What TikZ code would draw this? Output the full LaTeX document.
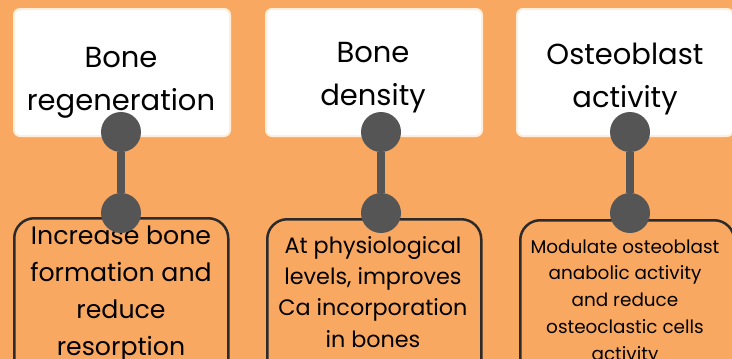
\documentclass[tikz,border=0pt]{standalone}
\usepackage{fontspec}
\setmainfont{Poppins}
\usepackage{tikz}
\definecolor{bgorange}{HTML}{F9A862}
\definecolor{cream}{HTML}{FFEEDB}
\definecolor{pin}{HTML}{555555}
\definecolor{edge}{HTML}{2B2B2B}

\begin{document}
\begin{tikzpicture}[x=1pt,y=-1pt,
  card/.style={draw=cream,fill=white,line width=2pt,rounded corners=6pt,minimum width=216pt,minimum height=127pt,anchor=north west,inner sep=0pt},
  lowbox/.style={draw=edge,line width=2.5pt,rounded corners=20pt,minimum width=214pt,minimum height=220pt,anchor=north west,inner sep=0pt},
  dot/.style={circle,fill=pin,minimum size=40pt,inner sep=0pt},
  conn/.style={draw=pin,line width=8pt},
  head/.style={align=center,anchor=base,inner sep=0pt,font=\fontsize{29}{43}\selectfont},
  body/.style={align=center,anchor=base,inner sep=0pt}]
  \useasboundingbox (0,0) rectangle (732,359);
  \clip (0,0) rectangle (732,359);
  \fill[bgorange] (0,0) rectangle (732,359);
  % cards (base = last line)
  \node[card] (c1) at (13,8) {};
  \node[card] (c2) at (265,8) {};
  \node[card] (c3) at (516,8) {};
  \node[head] (h1) at (121,110) {Bone\\regeneration};
  \node[head] (h2) at (373,105) {Bone\\density};
  \node[head] (h3) at (625,107) {Osteoblast\\activity};
  % lower boxes
  \node[lowbox] (l1) at (13,217) {};
  \node[lowbox] (l2) at (266,218) {};
  \node[lowbox] (l3) at (519,219) {};
  \node[body,font=\fontsize{25.2}{37}\selectfont] (t1) at (121,355) {Increase bone\\formation and\\reduce\\resorption};
  \node[body,font=\fontsize{22.3}{31.3}\selectfont] (t2) at (373,347) {At physiological\\levels, improves\\Ca incorporation\\in bones};
  \node[body,font=\fontsize{18.4}{26.7}\selectfont] (t3) at (625,360) {Modulate osteoblast\\anabolic activity\\and reduce\\osteoclastic cells\\activity};
  % pins
  \foreach \i/\x/\yb in {1/121/213,2/381/213,3/630/213} {
    \node[dot] (p\i) at (\x,132) {};
    \node[dot] (q\i) at (\x,\yb) {};
    \draw[conn] (p\i) -- (q\i);
  }
\end{tikzpicture}
\end{document}
